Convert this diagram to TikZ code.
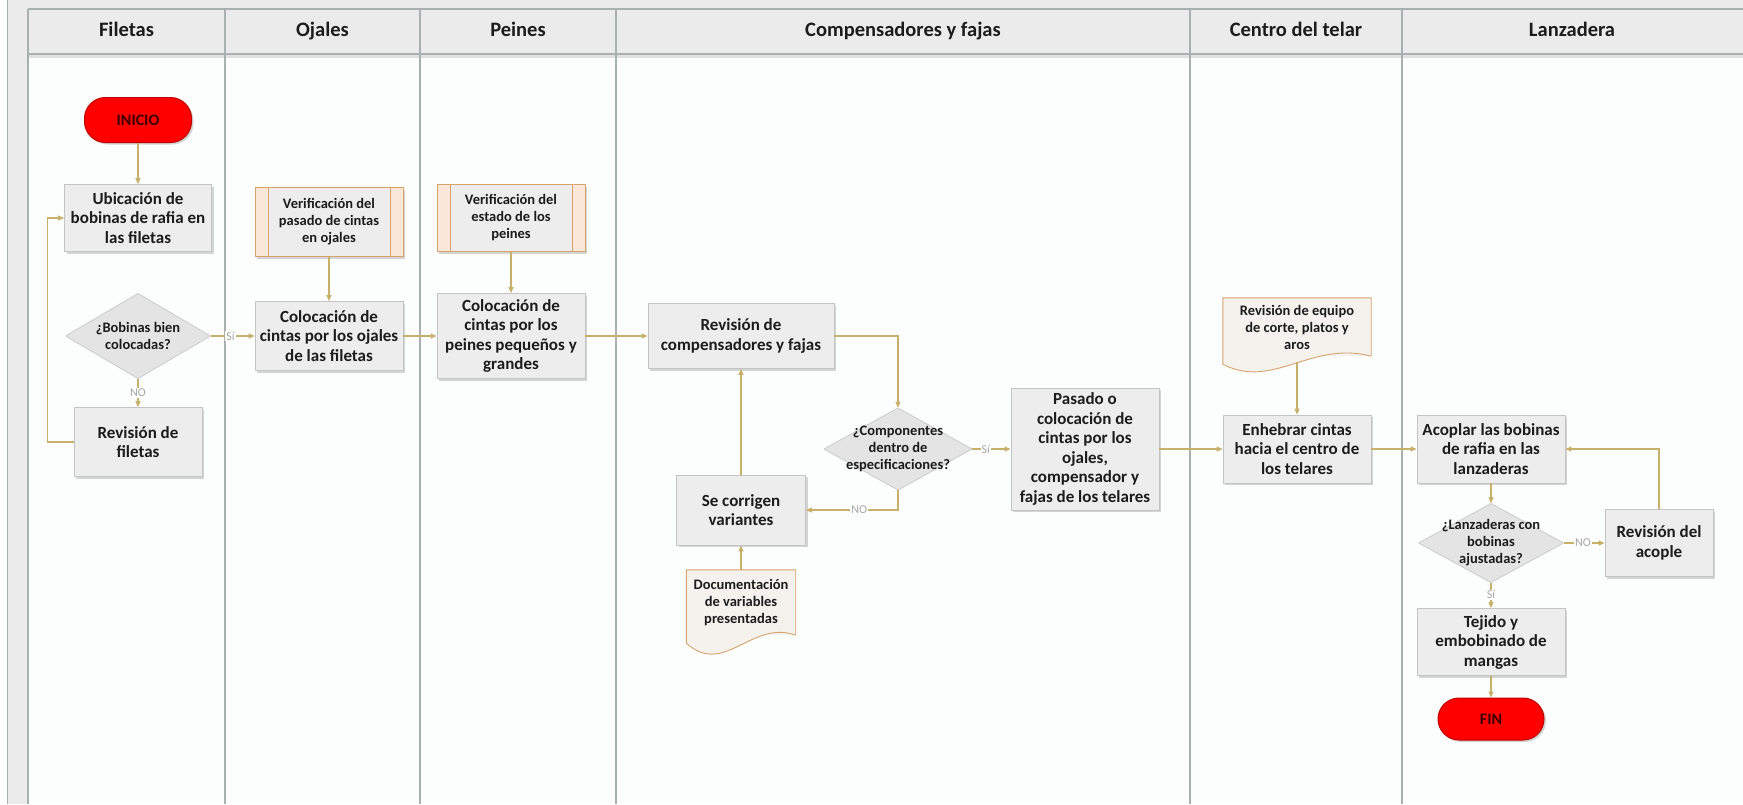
\documentclass[tikz,border=0pt]{standalone}
\usepackage{fontspec}
\setmainfont{Carlito}
\usetikzlibrary{arrows.meta,calc,shadows}

\definecolor{conncol}{HTML}{C6B06A}
\definecolor{boxfill}{HTML}{EDEDED}
\definecolor{boxline}{HTML}{C4C4C4}
\definecolor{lanegrey}{HTML}{EBEBEB}
\definecolor{laneline}{HTML}{A9B0B0}
\definecolor{bodywhite}{HTML}{FCFEFE}
\definecolor{tanline}{HTML}{D6A36C}
\definecolor{peach}{HTML}{FBE7D7}
\definecolor{pfill}{HTML}{EEEDEE}
\definecolor{docfill}{HTML}{F5F2EE}
\definecolor{decfill}{HTML}{E4E4E4}
\definecolor{decline}{HTML}{CBCBCB}
\definecolor{txt}{HTML}{1C1C1C}
\definecolor{lblcol}{HTML}{A4A4A4}
\definecolor{termred}{HTML}{FF0000}
\definecolor{termline}{HTML}{C00000}
\definecolor{termtext}{HTML}{3A0000}

\begin{document}
\begin{tikzpicture}[x=1pt,y=-1pt,
  sz/.style 2 args={minimum width=#1pt,minimum height=#2pt},
  softshadow/.style={drop shadow={shadow xshift=2pt,shadow yshift=-2pt,fill=black,opacity=0.16}},
  proc/.style={rectangle,draw=boxline,line width=0.8pt,fill=boxfill,inner sep=1pt,
    align=center,text=txt,font=\fontsize{17}{19.5}\selectfont\bfseries,softshadow},
  term/.style={rectangle,rounded corners=21pt,draw=termline,line width=1pt,fill=termred,
    text=termtext,font=\fontsize{16}{18}\selectfont\bfseries,softshadow},
  dec/.style={rectangle,inner sep=0pt,align=center,text=txt,
    font=\fontsize{14.5}{17}\selectfont\bfseries,
    path picture={\draw[draw=decline,fill=decfill,line width=0.8pt]
      (path picture bounding box.north) -- (path picture bounding box.east) --
      (path picture bounding box.south) -- (path picture bounding box.west) -- cycle;}},
  pproc/.style={rectangle,draw=tanline,line width=0.9pt,fill=pfill,inner sep=1pt,
    align=center,text=txt,font=\fontsize{14.5}{17}\selectfont\bfseries,softshadow,
    path picture={
      \fill[peach] (path picture bounding box.north west) rectangle
        ($(path picture bounding box.south west)+(13,0)$);
      \fill[peach] ($(path picture bounding box.north east)+(-13,0)$) rectangle
        (path picture bounding box.south east);
      \draw[tanline,line width=0.9pt] ($(path picture bounding box.north west)+(13,0)$) --
        ($(path picture bounding box.south west)+(13,0)$);
      \draw[tanline,line width=0.9pt] ($(path picture bounding box.north east)+(-13,0)$) --
        ($(path picture bounding box.south east)+(-13,0)$);}},
  doc/.style={rectangle,fill=docfill,inner sep=1pt,align=center,text=txt,
    font=\fontsize{14.5}{17}\selectfont\bfseries},
  conn/.style={draw=conncol,line width=1.2pt,-{Triangle[length=6pt,width=5pt]}},
  lbl/.style={fill=white,inner sep=1pt,text=lblcol,font=\fontsize{12}{13}\selectfont},
  lanehead/.style={text=txt,font=\fontsize{20.5}{22}\selectfont\bfseries,
    text height=14pt,text depth=4.5pt}
]
\useasboundingbox (0,0) rectangle (1743,804);

% ---- pool and lanes ----
\fill[white] (0,0) rectangle (1743,804);
\fill[lanegrey] (7,0) rectangle (1743,804);
\fill[bodywhite] (28,54) rectangle (1743,804);
\draw[laneline,line width=1pt] (7,0) -- (7,804);
\draw[laneline,line width=1.5pt] (28,9) -- (1743,9);
\draw[black!12,line width=3pt] (28,56) -- (1743,56);
\draw[laneline,line width=1.8pt] (28,54) -- (1743,54);
\foreach \lx in {28,225,420,616,1190,1402}
  \draw[laneline,line width=1.6pt] (\lx,9) -- (\lx,804);

\node[lanehead] (h1) at (126.5,31.5) {Filetas};
\node[lanehead] (h2) at (322.5,31.5) {Ojales};
\node[lanehead] (h3) at (518,31.5) {Peines};
\node[lanehead] (h4) at (903,31.5) {Compensadores y fajas};
\node[lanehead] (h5) at (1296,31.5) {Centro del telar};
\node[lanehead] (h6) at (1572,31.5) {Lanzadera};

% ---- Filetas ----
\node[term,sz={107}{45}] (inicio) at (138,120) {INICIO};
\node[proc,sz={147}{67}] (ubic) at (138,218) {Ubicación de\\bobinas de rafia en\\las filetas};
\node[dec,sz={145}{85}] (dec1) at (138,336) {¿Bobinas bien\\colocadas?};
\node[proc,sz={128}{69}] (revf) at (138,442) {Revisión de\\filetas};

% ---- Ojales ----
\node[pproc,sz={148}{69}] (verif1) at (329,222) {Verificación del\\pasado de cintas\\en ojales};
\node[proc,sz={148}{69}] (coloj) at (329,336) {Colocación de\\cintas por los ojales\\de las filetas};

% ---- Peines ----
\node[pproc,sz={148}{67}] (verif2) at (511,218) {Verificación del\\estado de los\\peines};
\node[proc,sz={148}{85}] (colpe) at (511,336) {Colocación de\\cintas por los\\peines pequeños y\\grandes};

% ---- Compensadores y fajas ----
\node[proc,sz={186}{65}] (revcomp) at (741,336) {Revisión de\\compensadores y fajas};
\node[dec,sz={148}{82}] (dec2) at (898,449) {¿Componentes\\dentro de\\especificaciones?};
\node[proc,sz={148}{122}] (pasado) at (1085,449) {Pasado o\\colocación de\\cintas por los\\ojales,\\compensador y\\fajas de los telares};
\node[proc,sz={129}{70}] (corr) at (741,510) {Se corrigen\\variantes};
\node[doc,sz={109}{65}] (docvar) at (741,602.5) {Documentación\\de variables\\presentadas};
\fill[docfill] (docvar.south west) -- ($(docvar.south west)+(0,8)$)
  .. controls ($(docvar.south west)+(38,42)$) and ($(docvar.south east)+(-44,-16)$) .. (docvar.south east) -- cycle;
\draw[tanline,line width=0.9pt] (docvar.south east) -- (docvar.north east) -- (docvar.north west) -- ($(docvar.south west)+(0,8)$)
  .. controls ($(docvar.south west)+(38,42)$) and ($(docvar.south east)+(-44,-16)$) .. (docvar.south east);

% ---- Centro del telar ----
\node[doc,sz={148}{58}] (doceq) at (1297,327) {Revisión de equipo\\de corte, platos y\\aros};
\fill[docfill] (doceq.south west) -- ($(doceq.south west)+(0,8)$)
  .. controls ($(doceq.south west)+(50,34)$) and ($(doceq.south east)+(-60,-16)$) .. (doceq.south east) -- cycle;
\draw[tanline,line width=0.9pt] (doceq.south east) -- (doceq.north east) -- (doceq.north west) -- ($(doceq.south west)+(0,8)$)
  .. controls ($(doceq.south west)+(50,34)$) and ($(doceq.south east)+(-60,-16)$) .. (doceq.south east);
\node[proc,sz={148}{68}] (enheb) at (1297,449) {Enhebrar cintas\\hacia el centro de\\los telares};

% ---- Lanzadera ----
\node[proc,sz={148}{68}] (acop) at (1491,449) {Acoplar las bobinas\\de rafia en las\\lanzaderas};
\node[dec,sz={145}{79}] (dec3) at (1491,543) {¿Lanzaderas con\\bobinas\\ajustadas?};
\node[proc,sz={108}{67}] (revac) at (1659,543) {Revisión del\\acople};
\node[proc,sz={148}{67}] (tejido) at (1491,642) {Tejido y\\embobinado de\\mangas};
\node[term,sz={106}{42}] (fin) at (1491,719) {FIN};

% ---- connectors ----
\draw[conn] (inicio.south) -- (ubic.north);
\draw[conn] (dec1.east) -- node[lbl,pos=0.45] {Sí} (coloj.west);
\draw[conn] (dec1.south) -- node[lbl,pos=0.5] {NO} (revf.north);
\draw[conn] (revf.west) -- ++(-26,0) |- (ubic.west);
\draw[conn] (verif1.south) -- (coloj.north);
\draw[conn] (coloj.east) -- (colpe.west);
\draw[conn] (verif2.south) -- (colpe.north);
\draw[conn] (colpe.east) -- (revcomp.west);
\draw[conn] (revcomp.east) -| (dec2.north);
\draw[conn] (dec2.east) -- node[lbl,pos=0.35] {Sí} (pasado.west);
\draw[conn] (dec2.south) |- node[lbl,pos=0.71] {NO} (corr.east);
\draw[conn] (corr.north) -- (revcomp.south);
\draw[conn] (docvar.north) -- (corr.south);
\draw[conn] (pasado.east) -- (enheb.west);
\draw[conn] ($(doceq.south)+(0,6)$) -- (enheb.north);
\draw[conn] (enheb.east) -- (acop.west);
\draw[conn] (acop.south) -- (dec3.north);
\draw[conn] (dec3.east) -- node[lbl,pos=0.47] {NO} (revac.west);
\draw[conn] (revac.north) |- (acop.east);
\draw[conn] (dec3.south) -- node[lbl,pos=0.48] {Sí} (tejido.north);
\draw[conn] (tejido.south) -- (fin.north);
\end{tikzpicture}
\end{document}
